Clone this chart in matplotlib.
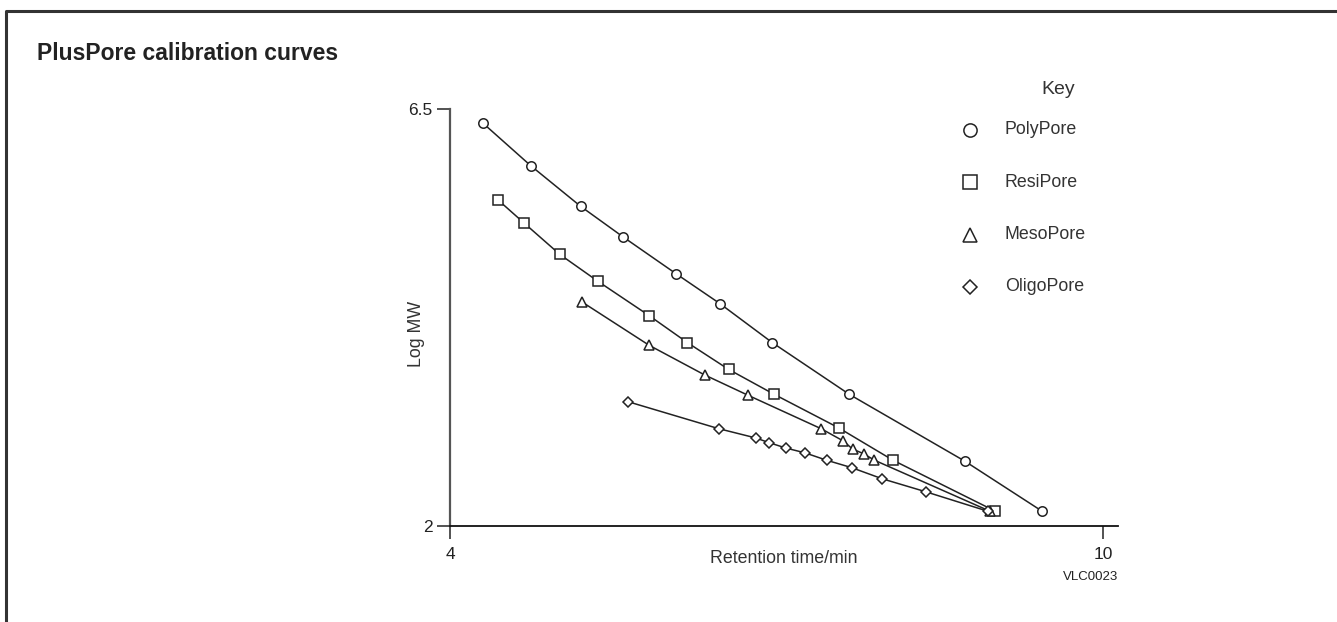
import matplotlib
matplotlib.use('Agg')
import matplotlib.pyplot as plt
from matplotlib import font_manager

# condensed look like the original artwork, if the narrow face is there
names = {f.name for f in font_manager.fontManager.ttflist}
base = ['Liberation Sans Narrow', 'Liberation Sans', 'DejaVu Sans']
plt.rcParams['font.family'] = [n for n in base if n in names] or ['DejaVu Sans']

# --- data: retention time (min) vs log MW ---
poly_t = [4.30, 4.74, 5.20, 5.59, 6.08, 6.48, 6.96, 7.67, 8.73, 9.44]
poly_mw = [6.35, 5.89, 5.45, 5.12, 4.72, 4.40, 3.98, 3.42, 2.70, 2.16]

resi_t = [4.44, 4.68, 5.01, 5.36, 5.83, 6.18, 6.56, 6.98, 7.57, 8.07, 9.01]
resi_mw = [5.52, 5.27, 4.93, 4.64, 4.27, 3.98, 3.69, 3.42, 3.06, 2.71, 2.16]

meso_t = [5.21, 5.83, 6.34, 6.74, 7.41, 7.61, 7.70, 7.80, 7.90, 8.96]
meso_mw = [4.42, 3.95, 3.63, 3.41, 3.05, 2.92, 2.83, 2.78, 2.71, 2.16]

oligo_t = [5.64, 6.47, 6.81, 6.93, 7.09, 7.26, 7.46, 7.69, 7.97, 8.37, 8.94]
oligo_mw = [3.34, 3.05, 2.95, 2.90, 2.84, 2.79, 2.71, 2.63, 2.51, 2.37, 2.16]

series_names = ['PolyPore', 'ResiPore', 'MesoPore', 'OligoPore']
x_ticks = [4, 10]
y_ticks = [2, 6.5]

W, H = 1337, 622
fig = plt.figure(figsize=(W / 100, H / 100), dpi=100)

# overlay in pixel coords for the frame, title and key
ov = fig.add_axes([0, 0, 1, 1])
ov.set_xlim(0, W)
ov.set_ylim(H, 0)
ov.axis('off')

ink = '#222222'
ov.plot([6, 6, W], [H, 11, 11], color='#333333', lw=2.2, solid_capstyle='butt')
ov.text(37, 53, 'PlusPore calibration curves', fontsize=16.5, fontweight='bold',
        color='#222222', va='center', ha='left')

# main axes
ax = fig.add_axes([450 / W, 1 - 526 / H, (1118 - 450) / W, (526 - 109) / H])
ax.patch.set_alpha(0)
ax.set_xlim(4, 4 + (1118 - 450) / ((1103 - 450) / 6))
ax.set_ylim(2, 6.5)

styles = [('o', 6.8), ('s', 6.8), ('^', 7.2), ('D', 5.2)]
data = [(poly_t, poly_mw), (resi_t, resi_mw), (meso_t, meso_mw), (oligo_t, oligo_mw)]
for (t, mw), (m, ms) in zip(data, styles):
    ax.plot(t, mw, '-', marker=m, markersize=ms, color=ink, lw=1.1,
            markerfacecolor='white', markeredgecolor=ink, markeredgewidth=1.1,
            clip_on=False, zorder=3)

for s in ['top', 'right']:
    ax.spines[s].set_visible(False)
ax.spines['left'].set_color('#555555')
ax.spines['left'].set_linewidth(1.6)
ax.spines['bottom'].set_color('#111111')
ax.spines['bottom'].set_linewidth(1.3)

ax.set_xticks(x_ticks)
ax.set_xticklabels([str(v) for v in x_ticks])
ax.set_yticks(y_ticks)
ax.set_yticklabels(['2', '6.5'])
ax.tick_params(axis='x', length=9.4, width=1.3, color='#444444', pad=6,
               labelsize=12.5, labelcolor=ink)
ax.tick_params(axis='y', length=9.4, width=1.3, color='#444444', pad=3,
               labelsize=12.5, labelcolor=ink)

ax.set_xlabel('Retention time/min', fontsize=12.8, color='#333333', labelpad=-9)
ax.set_ylabel('Log MW', fontsize=12.8, color='#333333')
ax.yaxis.set_label_coords(-0.037, 0.46)

ov.text(1118, 577, 'VLC0023', fontsize=9.5, color=ink, ha='right', va='center')

# key
ov.text(1041, 90, 'Key', fontsize=14, color='#333333', va='center', ha='left')
for i, ((m, ms), name) in enumerate(zip(styles, series_names)):
    y = 130 + i * 52.3
    ov.plot([970], [y], marker=m, markersize=ms * 1.4, markerfacecolor='white',
            markeredgecolor=ink, markeredgewidth=1.1, linestyle='none')
    ov.text(1005, y, name, fontsize=12.8, color='#333333', va='center', ha='left')

fig.savefig('out.png', dpi=100)
